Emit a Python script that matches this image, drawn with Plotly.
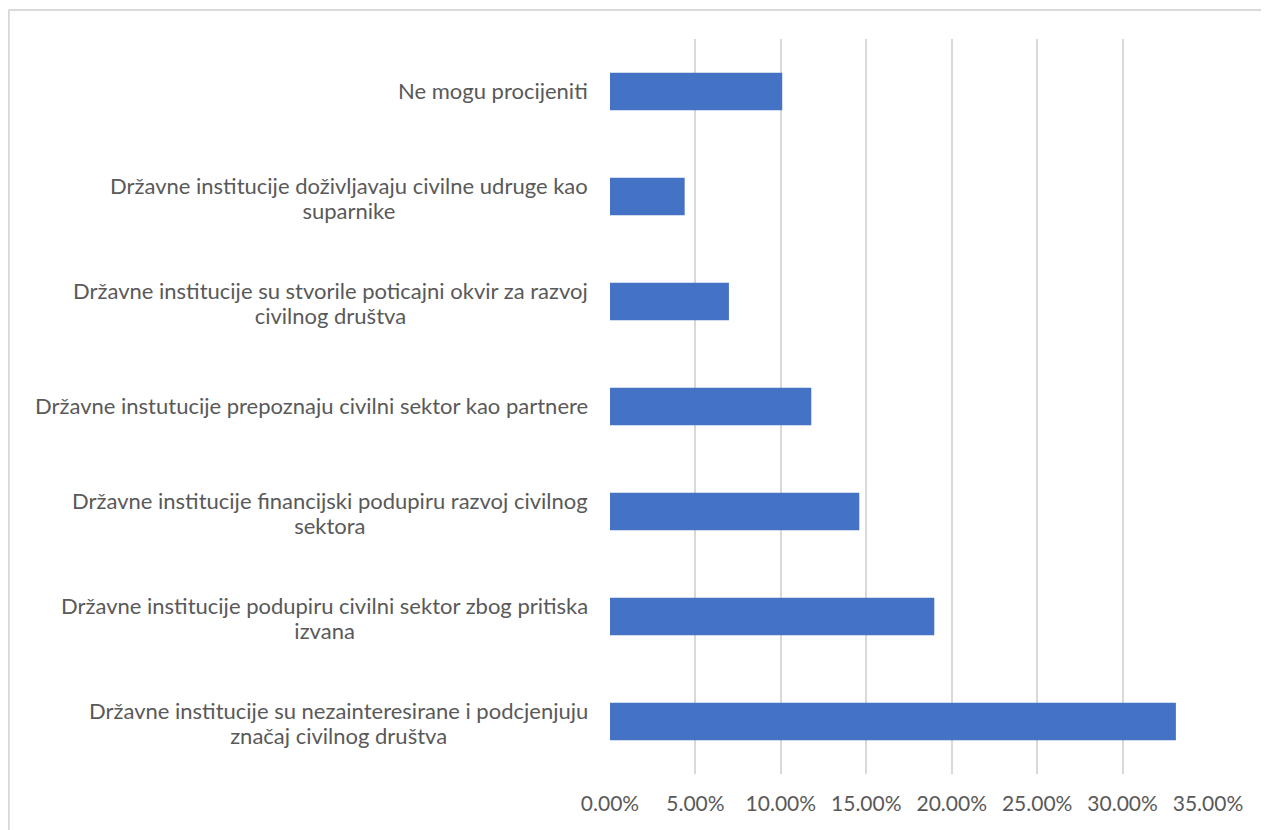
import plotly.graph_objects as go

categories = [
    "Ne mogu procijeniti",
    "Državne institucije doživljavaju civilne udruge kao<br>suparnike",
    "Državne institucije su stvorile poticajni okvir za razvoj<br>civilnog društva",
    "Državne instutucije prepoznaju civilni sektor kao partnere",
    "Državne institucije financijski podupiru razvoj civilnog<br>sektora",
    "Državne institucije podupiru civilni sektor zbog pritiska<br>izvana",
    "Državne institucije su nezainteresirane i podcjenjuju<br>značaj civilnog društva",
]
values = [0.1008, 0.0437, 0.0696, 0.1178, 0.1459, 0.1898, 0.3312]
x_ticks = [0, 0.05, 0.10, 0.15, 0.20, 0.25, 0.30, 0.35]

# page body has an 8px margin, so everything is laid out 8px up/left
OFF = 8
W, H = 1269, 830
ML = 610 - OFF
MT = 39 - OFF
plot_right = 1208.3 - OFF
plot_bottom = 774 - OFF
MR = W - plot_right
MB = H - plot_bottom
pw, ph = W - ML - MR, H - MT - MB

font_family = "Lato, Carlito, Calibri, sans-serif"
text_color = "#595959"

fig = go.Figure(go.Bar(
    x=values, y=categories, orientation="h",
    marker=dict(color="#4472C4", line=dict(width=0)),
    hoverinfo="x+y",
))

def styled(label):
    return "<br>".join('<span style="font-size:22px">%s</span>' % ln
                       for ln in label.split("<br>"))

annotations = [
    dict(x=0, y=c, xref="paper", yref="y", text=styled(c), showarrow=False,
         xanchor="right", yanchor="middle", align="center", xshift=-20,
         yshift=(-1.5 if "<br>" in c else 1),
         font=dict(family=font_family, size=19.2, color=text_color))
    for c in categories
]

def px_x(p):
    return (p - ML) / pw

def px_y(p):
    return (H - MB - p) / ph

shapes = [
    dict(type="line", xref="paper", yref="paper", x0=px_x(0), x1=px_x(1290),
         y0=px_y(2), y1=px_y(2), line=dict(color="#d9d9d9", width=2)),
    dict(type="line", xref="paper", yref="paper", x0=px_x(0.5), x1=px_x(0.5),
         y0=px_y(2), y1=px_y(850), line=dict(color="#d9d9d9", width=2)),
]

fig.update_layout(
    width=W, height=H,
    margin=dict(l=ML, r=MR, t=MT, b=MB, autoexpand=False),
    paper_bgcolor="white", plot_bgcolor="white",
    bargap=0.645,
    showlegend=False,
    annotations=annotations,
    shapes=shapes,
    font=dict(family=font_family, size=21, color=text_color),
    xaxis=dict(
        range=[0, 0.35], tickvals=x_ticks, tickformat=".2%",
        showgrid=True, gridcolor="#d9d9d9", gridwidth=1.5,
        zeroline=False, showline=False,
        ticks="outside", ticklen=11, tickcolor="rgba(0,0,0,0)",
        tickfont=dict(family=font_family, size=21, color=text_color),
    ),
    yaxis=dict(
        autorange="reversed", showticklabels=False, showgrid=False,
        zeroline=False, showline=False,
    ),
)

fig.write_html("out.html")
